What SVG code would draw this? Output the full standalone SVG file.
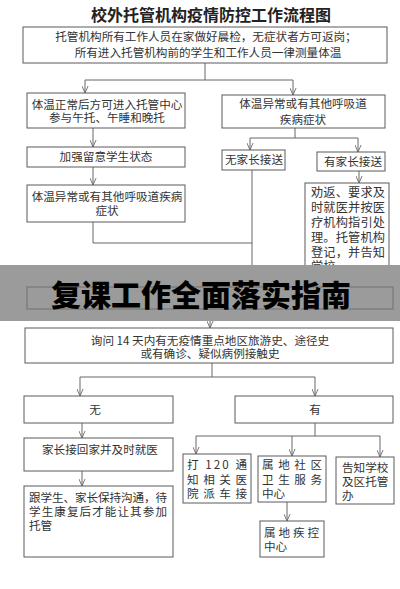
<svg xmlns="http://www.w3.org/2000/svg" width="400" height="589" viewBox="0 0 400 589">
<style>
.box{fill:#fff;stroke:#5a5a5a;stroke-width:1}
.t{font-family:"Noto Sans CJK SC","Noto Sans",sans-serif;font-size:11.6px;fill:#333}
.c{text-anchor:middle}
.ln{fill:none;stroke:#666;stroke-width:1}
.ar{fill:none;stroke:#666;stroke-width:1;marker-end:url(#ah)}
</style>
<defs>
<marker id="ah" viewBox="0 0 8 8" refX="8" refY="4" markerWidth="7" markerHeight="7" markerUnits="userSpaceOnUse" orient="auto">
<path d="M0,0.5 L8,4 L0,7.5" fill="none" stroke="#666" stroke-width="1"/>
</marker>
</defs>
<rect width="400" height="589" fill="#fff"/>
<text x="211" y="21" class="t c" style="font-size:16px;font-weight:bold;fill:#222">校外托管机构疫情防控工作流程图</text>

<g id="connectors">
<path class="ln" d="M205,63 V80 M85,80 H293"/>
<path class="ar" d="M85,80 V93"/>
<path class="ar" d="M293,80 V95"/>
<path class="ar" d="M93,128 V147"/>
<path class="ar" d="M93,167 V185"/>
<path class="ln" d="M93,222 V243 H252"/>
<path class="ln" d="M295,128 V138 M250,138 H358"/>
<path class="ar" d="M250,138 V150"/>
<path class="ar" d="M358,138 V152"/>
<path class="ar" d="M359,171 V183"/>
<path class="ar" d="M252,170 V287"/>
<path class="ar" d="M210,309 V328"/>
<path class="ln" d="M212,363 V377 M80,377 H315"/>
<path class="ar" d="M80,377 V396"/>
<path class="ar" d="M315,377 V396"/>
<path class="ar" d="M82,423 V438"/>
<path class="ar" d="M82,471 V486"/>
<path class="ln" d="M315,423 V436 M196,436 H380"/>
<path class="ar" d="M196,436 V454"/>
<path class="ar" d="M292,436 V456"/>
<path class="ar" d="M380,436 V457"/>
<path class="ar" d="M287,502 V521"/>
</g>

<g id="n1"><rect class="box" x="23" y="27" width="364" height="36"/>
<text x="206" y="41" class="t c">托管机构所有工作人员在家做好晨检，无症状者方可返岗；</text>
<text x="208" y="57" class="t c">所有进入托管机构前的学生和工作人员一律测量体温</text></g>

<g id="n2"><rect class="box" x="27" y="93" width="158" height="35"/>
<text x="107" y="109" class="t c">体温正常后方可进入托管中心</text>
<text x="107" y="122" class="t c">参与午托、午睡和晚托</text></g>

<g id="n3"><rect class="box" x="27" y="147" width="158" height="20"/>
<text x="106" y="161" class="t c">加强留意学生状态</text></g>

<g id="n4"><rect class="box" x="27" y="185" width="158" height="37"/>
<text x="107" y="201" class="t c">体温异常或有其他呼吸道疾病</text>
<text x="107" y="215" class="t c">症状</text></g>

<g id="n5"><rect class="box" x="222" y="95" width="163" height="33"/>
<text x="303" y="108" class="t c">体温异常或有其他呼吸道</text>
<text x="303" y="124" class="t c">疾病症状</text></g>

<g id="n6"><rect class="box" x="222" y="150" width="63" height="20"/>
<text x="254" y="164" class="t c">无家长接送</text></g>

<g id="n7"><rect class="box" x="317" y="152" width="68" height="19"/>
<text x="353" y="166" class="t c" textLength="58" lengthAdjust="spacing">有家长接送</text></g>

<g id="n8"><rect class="box" x="305" y="183" width="84" height="93"/>
<g class="t" style="font-size:12.2px">
<text x="311" y="197" textLength="74" lengthAdjust="spacing">劝返、要求及</text>
<text x="311" y="212" textLength="74" lengthAdjust="spacing">时就医并按医</text>
<text x="311" y="227" textLength="74" lengthAdjust="spacing">疗机构指引处</text>
<text x="311" y="242" textLength="74" lengthAdjust="spacing">理。托管机构</text>
<text x="311" y="257" textLength="74" lengthAdjust="spacing">登记，并告知</text>
<text x="311" y="271">学校。</text>
</g></g>

<g id="banner">
<rect x="0" y="265" width="400" height="56" fill="#9b9b9b"/>
<rect x="27" y="287" width="366" height="22" fill="none" stroke="#707070" stroke-width="1"/>
<path d="M252,280 V287" fill="none" stroke="#555" stroke-width="1"/>
<text x="201" y="306" class="c" style="font-family:'Noto Sans CJK SC',sans-serif;font-size:30px;font-weight:900;fill:#000">复课工作全面落实指南</text>
</g>

<g id="n9"><rect class="box" x="25" y="328" width="368" height="35"/>
<text x="210" y="345" class="t c">询问 14 天内有无疫情重点地区旅游史、途径史</text>
<text x="210" y="358" class="t c">或有确诊、疑似病例接触史</text></g>

<g id="n10"><rect class="box" x="24" y="396" width="149" height="27"/>
<text x="95" y="414" class="t c">无</text></g>

<g id="n11"><rect class="box" x="235" y="396" width="158" height="27"/>
<text x="315" y="414" class="t c">有</text></g>

<g id="n12"><rect class="box" x="24" y="438" width="149" height="33"/>
<text x="100" y="454" class="t c">家长接回家并及时就医</text></g>

<g id="n13"><rect class="box" x="24" y="486" width="149" height="71"/>
<text x="29" y="502" class="t" textLength="138" lengthAdjust="spacing">跟学生、家长保持沟通，待</text>
<text x="29" y="516" class="t" textLength="138" lengthAdjust="spacing">学生康复后才能让其参加</text>
<text x="29" y="530" class="t">托管</text></g>

<g id="n14"><rect class="box" x="183" y="454" width="68" height="49"/>
<text x="187" y="469" class="t" textLength="60" lengthAdjust="spacing">打 120 通</text>
<text x="187" y="484" class="t" textLength="60" lengthAdjust="spacing">知相关医</text>
<text x="187" y="498" class="t" textLength="60" lengthAdjust="spacing">院派车接</text></g>

<g id="n15"><rect class="box" x="258" y="456" width="68" height="46"/>
<text x="262" y="469" class="t" textLength="60" lengthAdjust="spacing">属地社区</text>
<text x="262" y="484" class="t" textLength="60" lengthAdjust="spacing">卫生服务</text>
<text x="262" y="498" class="t">中心</text></g>

<g id="n16"><rect class="box" x="260" y="521" width="64" height="36"/>
<text x="264" y="537" class="t" textLength="55" lengthAdjust="spacing">属地疾控</text>
<text x="264" y="551" class="t">中心</text></g>

<g id="n17"><rect class="box" x="336" y="457" width="58" height="47"/>
<text x="342" y="472" class="t">告知学校</text>
<text x="342" y="486" class="t">及区托管</text>
<text x="342" y="500" class="t">办</text></g>
</svg>
